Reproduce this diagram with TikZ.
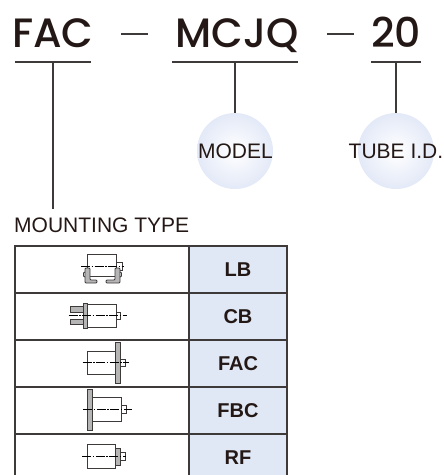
\documentclass[tikz,border=0pt]{standalone}
\usepackage{fontspec}
\setmainfont{Liberation Sans}
\newfontfamily\partfont{Poppins Medium}
\usetikzlibrary{positioning, calc}

\definecolor{inkline}{HTML}{3E3A39}
\definecolor{inktext}{HTML}{231815}
\definecolor{cellblue}{HTML}{E0E8F5}
\definecolor{ballblue}{HTML}{E3E9F7}
\definecolor{partgray}{HTML}{B5B5B6}

\tikzset{
    parttext/.style={font=\partfont\fontsize{41}{41}\selectfont, text=inktext, inner sep=0pt, anchor=base},
    bartext/.style={draw=inkline, line width=1.5pt},
    ball/.style={circle, minimum size=76pt, inner sep=0pt, inner color=white, outer color=ballblue},
    balltext/.style={font=\fontsize{21}{21}\selectfont, text=inktext, inner sep=0pt},
    iconcell/.style={draw=inkline, line width=1.4pt, minimum width=174pt, minimum height=47pt, inner sep=0pt},
    codecell/.style={draw=inkline, line width=1.4pt, fill=cellblue, minimum width=98pt, minimum height=47pt, inner sep=0pt, font=\bfseries\fontsize{20}{20}\selectfont, text=inktext},
    part/.style={draw=inkline, line width=0.9pt, fill=white},
    flange/.style={draw=inkline, line width=0.9pt, fill=partgray},
    axis/.style={draw=black, line width=0.7pt, dash pattern=on 9pt off 1.5pt on 1.5pt off 1.5pt}
}

\begin{document}
\begin{tikzpicture}[x=1pt, y=-1pt]
    \useasboundingbox (0,0) rectangle (444,475);

    % part number
    \node[parttext] (fac) at (53,47) {FAC};
    \node[parttext] (mcjq) at (237,47) {MCJQ};
    \node[parttext] (size) at (396,47) {20};
    \coordinate (dash1l) at (121,34);
    \coordinate (dash1r) at (148,34);
    \coordinate (dash2l) at (327,34);
    \coordinate (dash2r) at (354,34);
    \draw[bartext] (dash1l) -- (dash1r);
    \draw[bartext] (dash2l) -- (dash2r);

    \coordinate (facl) at (15,62);
    \coordinate (facm) at (53,62);
    \coordinate (facr) at (91,62);
    \coordinate (mcjql) at (172,62);
    \coordinate (mcjqm) at (235,62);
    \coordinate (mcjqr) at (298,62);
    \coordinate (sizel) at (371,62);
    \coordinate (sizem) at (396,62);
    \coordinate (sizer) at (421,62);
    \draw[bartext] (facl) -- (facr);
    \draw[bartext] (mcjql) -- (mcjqr);
    \draw[bartext] (sizel) -- (sizer);

    % balloons
    \node[ball] (modelball) at (235,151) {};
    \node[ball] (sizeball) at (396,151) {};
    \node[balltext] (model) at (235.5,151) {MODEL};
    \node[balltext] (tube) at (396,151) {TUBE I.D.};
    \node[balltext, anchor=west] (mounting) at (14,225.5) {MOUNTING TYPE};
    \coordinate (mountingtop) at (53,209);

    \draw[bartext] (facm) -- (mountingtop);
    \draw[bartext] (mcjqm) -- (modelball.north);
    \draw[bartext] (sizem) -- (sizeball.north);

    % table
    \node[iconcell] (lbicon) at (102,269.5) {};
    \node[iconcell] (cbicon) at (102,316.5) {};
    \node[iconcell] (facicon) at (102,363.5) {};
    \node[iconcell] (fbcicon) at (102,410.5) {};
    \node[iconcell] (rficon) at (102,457.5) {};
    \node[codecell] (lb) at (238,269.5) {LB};
    \node[codecell] (cb) at (238,316.5) {CB};
    \node[codecell] (facrow) at (238,363.5) {FAC};
    \node[codecell] (fbc) at (238,410.5) {FBC};
    \node[codecell] (rf) at (238,457.5) {RF};

    % LB
    \draw[part] (116,262) rectangle (122,270);
    \draw[part] (87,254) rectangle (116,276);
    \draw[flange, rounded corners=1pt] (85,268) -- (85,283) -- (97,283) -- (97,280) -- (90,280) -- (90,268) -- cycle;
    \draw[flange, rounded corners=1pt] (120,268) -- (120,283) -- (106,283) -- (106,280) -- (115,280) -- (115,268) -- cycle;
    \draw[flange] (85,272) -- (83.5,273) -- (83.5,276) -- (85,277);
    \draw[flange] (120,272) -- (121.5,273) -- (121.5,276) -- (120,277);
    \draw[axis] (81,266) -- (124,266);

    % CB
    \draw[flange] (70.7,306.7) rectangle (84,312.7);
    \draw[flange] (70.7,319) rectangle (84,324.5);
    \draw[part] (116.7,312) rectangle (120.7,319.7);
    \draw[part] (87,304) rectangle (116.7,327.3);
    \draw[flange] (83.5,303) rectangle (87,328);
    \draw[axis] (68.7,315.7) -- (127,315.7);

    % FAC
    \draw[part] (120.3,359) rectangle (125.7,366.7);
    \draw[part] (87,351.3) rectangle (115.7,374.3);
    \draw[flange] (115.7,342.3) rectangle (120.3,383);
    \draw[axis] (82.7,362.7) -- (129,362.7);

    % FBC
    \draw[part] (121.3,405.7) rectangle (126,413.7);
    \draw[part] (92.3,397.3) rectangle (121.3,421.3);
    \draw[flange] (87.3,389.3) rectangle (92.3,430);
    \draw[axis] (83.3,409.3) -- (132.3,409.3);

    % RF
    \draw[part] (120.7,452.3) rectangle (125.7,460.7);
    \draw[part] (87,444.3) rectangle (115.7,468.3);
    \draw[flange] (115.7,448) rectangle (120.7,465.3);
    \draw[axis] (82.3,456.3) -- (126,456.3);
\end{tikzpicture}
\end{document}
